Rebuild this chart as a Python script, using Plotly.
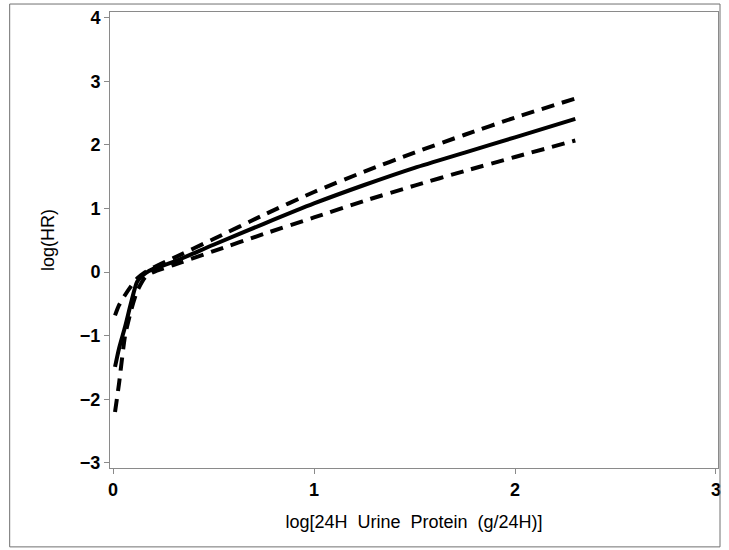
import plotly.graph_objects as go

x_vals = [0.01, 0.03, 0.06, 0.09, 0.12, 0.16, 0.2, 0.3, 0.5, 0.75, 1.0, 1.25, 1.5, 1.75, 2.0, 2.3]
log_hr = [-1.49, -1.20, -0.86, -0.48, -0.15, -0.02, 0.05, 0.16, 0.43, 0.76, 1.08, 1.37, 1.64, 1.88, 2.12, 2.41]
upper_ci = [-0.68, -0.52, -0.36, -0.22, -0.10, 0.00, 0.07, 0.22, 0.52, 0.90, 1.26, 1.58, 1.88, 2.16, 2.43, 2.73]
lower_ci = [-2.20, -1.75, -1.00, -0.60, -0.30, -0.08, 0.00, 0.11, 0.33, 0.60, 0.86, 1.12, 1.36, 1.59, 1.81, 2.07]

x_ticks = [0, 1, 2, 3]
y_ticks = [-3, -2, -1, 0, 1, 2, 3, 4]
y_tick_text = ["\u22123", "\u22122", "\u22121", "0", "1", "2", "3", "4"]

fig = go.Figure()
fig.add_hline(y=0, line=dict(color="#a0a0a0", width=1))
fig.add_trace(go.Scatter(x=x_vals, y=upper_ci, mode="lines",
                         line=dict(color="black", width=4, dash="13px,8px", shape="spline", smoothing=0.6)))
fig.add_trace(go.Scatter(x=x_vals, y=lower_ci, mode="lines",
                         line=dict(color="black", width=4, dash="13px,8px", shape="spline", smoothing=0.6)))
fig.add_trace(go.Scatter(x=x_vals, y=log_hr, mode="lines",
                         line=dict(color="black", width=4, shape="spline", smoothing=0.6)))

axis_common = dict(showgrid=False, zeroline=False, showline=True, linecolor="#8a8a8a",
                   linewidth=1, mirror=True, ticks="outside", ticklen=5, tickcolor="#8a8a8a",
                   tickfont=dict(family="Liberation Sans, Arial", size=18, color="black", weight="bold"))

fig.update_layout(
    width=729, height=550,
    margin=dict(l=110, r=8, t=12, b=82),
    paper_bgcolor="white", plot_bgcolor="white",
    showlegend=False,
    font=dict(family="Liberation Sans, Arial", color="black"),
    xaxis=dict(range=[-0.015, 3.01], tickvals=x_ticks,
               title=dict(text="log[24H  Urine  Protein  (g/24H)]", font=dict(size=18), standoff=16),
               **axis_common),
    yaxis=dict(range=[-3.08, 4.09], tickvals=y_ticks, ticktext=y_tick_text,
               title=dict(text="log(HR)", font=dict(size=18), standoff=20),
               **axis_common),
    shapes=[dict(type="rect", xref="paper", yref="paper", x0=-0.165, x1=1.0033,
                 y0=-0.173, y1=1.0175, line=dict(color="#707070", width=1))],
)

fig.write_html("out.html", config={"displayModeBar": False},
               post_script="document.body.style.margin='0';document.body.style.overflow='hidden';")
